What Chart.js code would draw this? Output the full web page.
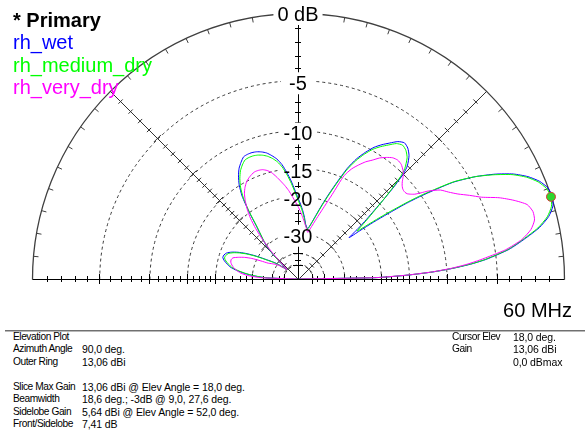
<!DOCTYPE html>
<html>
<head>
<meta charset="utf-8">
<title>Elevation Plot</title>
<script src="https://cdn.jsdelivr.net/npm/chart.js@4.4.1/dist/chart.umd.min.js"></script>
<style>
  body { margin: 0; background: #fff; }
  #wrap { position: relative; width: 585px; height: 435px; overflow: hidden;
          font-family: "Liberation Sans", Arial, sans-serif; color: #000; }
  #plot { position: absolute; left: 0; top: 0; }
  #legend { position: absolute; left: 13px; top: 8.5px; font-size: 20px; line-height: 22.6px; white-space: nowrap; }
  #legend .head { font-weight: bold; color: #000; }
  .ring { position: absolute; font-size: 20px; line-height: 20px; white-space: nowrap; transform: translate(-50%, -50%); }
  #freq { position: absolute; right: 13px; top: 299.5px; font-size: 20px; line-height: 20px; }
  #sep { position: absolute; left: 5px; right: 0; top: 330px; border-top: 1px solid #707070; border-bottom: 1px solid #b8b8b8; }
  .info { position: absolute; top: 330.5px; font-size: 10.5px; line-height: 12.5px; white-space: nowrap; }
  .info.lab { font-size: 10.2px; letter-spacing: -0.45px; }
  .info.val { letter-spacing: -0.1px; }
</style>
</head>
<body>
<div id="wrap">
  <canvas id="plot" width="585" height="330"></canvas>
  <div id="legend"></div>
  <div id="freq">60 MHz</div>
  <div id="sep"></div>
  <div class="info lab" style="left:13px">
    <div>Elevation Plot</div><div>Azimuth Angle</div><div>Outer Ring</div><div>&nbsp;</div>
    <div>Slice Max Gain</div><div>Beamwidth</div><div>Sidelobe Gain</div><div>Front/Sidelobe</div>
  </div>
  <div class="info val" style="left:82px">
    <div>&nbsp;</div><div>90,0 deg.</div><div>13,06 dBi</div><div>&nbsp;</div>
    <div>13,06 dBi @ Elev Angle = 18,0 deg.</div><div>18,6 deg.; -3dB @ 9,0, 27,6 deg.</div>
    <div>5,64 dBi @ Elev Angle = 52,0 deg.</div><div>7,41 dB</div>
  </div>
  <div class="info lab" style="left:452px">
    <div>Cursor Elev</div><div>Gain</div><div>&nbsp;</div>
  </div>
  <div class="info val" style="left:513px">
    <div>18,0 deg.</div><div>13,06 dBi</div><div>0,0 dBmax</div>
  </div>
</div>
<script>
// elevation angles in degrees (0 = right horizon, 180 = left horizon)
var elevAngles = [0,1,2,3,4,5,6,
  8,10,12,14,16,18,20,22,24,26,28,30,32,34,
  35,36,37,38,39,40,41,42,43,44,45,
  46,48,50,52,54,56,58,60,62,64,66,68,70,72,74,76,78,
  79,
  80,82,84,86,88,90,92,94,96,98,100,102,104,106,108,110,112,114,116,118,
  120,122,124,126,128,130,132,134,136,138,140,142,144,146,148,150,152,154,156,158,
  160,162,164,166,168,170,172,174,176,178,180];

// gain in dB relative to the outer ring (13,06 dBi)
var rhWet = [-99,-21,-15.3,-11.6,-9.1,-7.2,-5.8,
  -3.8,-2.5,-1.3,-0.5,-0.05,0.1,0,-0.35,-0.95,-1.8,-3.0,-4.5,-6.5,-10.0,
  -12.2,-15.0,-17.8,-21,-24,-21,-18.5,-16.3,-13.8,-11.6,-9.9,
  -9.0,-8.1,-7.6,-7.4,-7.7,-8.3,-8.9,-9.6,-10.6,-11.8,-13.5,-16,-18.5,-21,-23.5,-25.8,-27.6,
  -28.2,
  -28,-27,-25,-23.3,-21.8,-20.4,-18.8,-17.1,-15.6,-14.3,-13.4,-12.8,-12.3,-12.0,-11.8,-11.7,-11.7,-11.8,-12.3,-12.9,
  -13.8,-15.0,-16.8,-19.8,-23.4,-26,-28.2,-31,-36,-45,-50,-45,-40,-37,-34.5,-31.5,-28.5,-26,-24,-22.5,
  -21.5,-21.1,-21,-21.5,-22.3,-23.2,-25,-27.5,-31,-37,-99];

var rhMediumDry = [-99,-21.1,-15.4,-11.7,-9.2,-7.3,-5.9,
  -3.9,-2.6,-1.4,-0.6,-0.15,0,-0.1,-0.45,-1.05,-1.9,-3.1,-4.5,-6.4,-9.6,
  -11.6,-14.0,-16.5,-19.3,-21.5,-19.8,-17.8,-15.9,-13.9,-12.0,-10.4,
  -9.4,-8.4,-7.9,-7.7,-7.95,-8.55,-9.15,-9.85,-10.85,-12.1,-13.8,-16.3,-18.8,-21.3,-23.8,-26,-27.8,
  -28.3,
  -28.2,-27.3,-25.4,-23.7,-22.2,-20.8,-19.2,-17.5,-16.0,-14.7,-13.8,-13.2,-12.75,-12.45,-12.25,-12.15,-12.15,-12.25,-12.7,-13.3,
  -14.2,-15.4,-17.2,-20.1,-23.6,-26.2,-28.5,-31.5,-36.5,-45.5,-50,-45.5,-40.5,-37.5,-35,-32,-29,-26.4,-24.4,-22.9,
  -21.9,-21.5,-21.4,-21.9,-22.7,-23.6,-25.4,-27.9,-31.4,-37.4,-99];

var rhVeryDry = [-99,-21.2,-15.5,-11.8,-9.4,-7.7,-6.4,
  -4.1,-2.7,-1.9,-1.5,-1.45,-1.7,-2.5,-3.5,-4.8,-5.7,-6.6,-7.3,-7.9,-9.0,
  -9.8,-10.5,-10.9,-11.2,-11.3,-11.3,-11.2,-11.0,-10.7,-10.3,-9.95,
  -9.7,-9.35,-9.25,-9.4,-9.8,-10.3,-11.0,-11.6,-12.4,-13.3,-14.7,-18.4,-21.2,-23.6,-25.8,-27.8,-29.5,
  -29.2,
  -28.6,-27.4,-26.1,-24.8,-23.5,-22.3,-21.2,-20.0,-18.8,-17.8,-16.9,-16.0,-15.2,-14.7,-14.4,-14.3,-14.3,-14.5,-14.8,-15.2,
  -15.8,-16.6,-17.8,-19.3,-21.2,-24,-28,-33,-40,-48,-50,-46,-42.5,-40,-38.5,-37,-35.5,-32,-28.5,-26.2,
  -24.6,-23.3,-23,-23.1,-23.5,-24.1,-25,-26.2,-28.5,-34,-99];

var cursorElev = 18;
var cursorDb = 0;

// rings and their labels (dB)
var ringDb = [0,-5,-10,-15,-20,-30,-40,-50];
var ringLabelDb = [0,-5,-10,-15,-20,-30];
var ringLabels = ['0 dB','-5','-10','-15','-20','-30'];
var minorTickDb = [-1,-2,-3,-4,-6,-7,-8,-9,-11,-12,-13,-14,-16,-17,-18,-19,-22,-24,-26,-28,-35,-45];

// ARRL log scale: radius shrinks to 0.89 every 2 dB
function arrl(db) { return Math.pow(0.89, -db / 2); }
function toXY(ang, db) {
  var r = arrl(db), a = ang * Math.PI / 180;
  return { x: r * Math.cos(a), y: r * Math.sin(a) };
}
function trace(vals) { return elevAngles.map(function (a, i) { return toXY(a, vals[i]); }); }

var wrap = document.getElementById('wrap');
var ringDivs = ringLabels.map(function (t) {
  var d = document.createElement('div');
  d.className = 'ring';
  d.textContent = t;
  wrap.appendChild(d);
  return d;
});

function geometry(chart) {
  var sx = chart.scales.x, sy = chart.scales.y;
  var cx = sx.getPixelForValue(0), cy = sy.getPixelForValue(0);
  return { cx: cx, cy: cy, R: sx.getPixelForValue(1) - cx };
}

function tickAt(ctx, g, angDeg, db, half) {
  var a = angDeg * Math.PI / 180, r = g.R * arrl(db);
  var px = g.cx + r * Math.cos(a), py = g.cy - r * Math.sin(a);
  if (angDeg === 90) py = Math.round(py) + 0.5;
  if (angDeg === 0 || angDeg === 180) px = Math.round(px) + 0.5;
  var nx = Math.sin(a), ny = Math.cos(a);
  ctx.moveTo(px - nx * half, py - ny * half);
  ctx.lineTo(px + nx * half, py + ny * half);
}

var polarGrid = {
  id: 'polarGrid',
  beforeDatasetsDraw: function (chart) {
    var ctx = chart.ctx, g = geometry(chart);
    ctx.save();
    ctx.font = '20px "Liberation Sans", Arial';
    var boxes = ringLabelDb.map(function (db, i) {
      var r = g.R * arrl(db);
      var yc = g.cy - r + (db === 0 ? 1 : 3);
      ringDivs[i].style.left = g.cx + 'px';
      ringDivs[i].style.top = yc + 'px';
      var w = Math.max(ctx.measureText(ringLabels[i]).width + 8, 34);
      return { x: g.cx - w / 2, y: yc - 11, w: w, h: 22 };
    });
    ctx.beginPath();
    ctx.rect(0, 0, chart.width, chart.height);
    boxes.forEach(function (b) { ctx.rect(b.x, b.y, b.w, b.h); });
    ctx.clip('evenodd');

    var cx = Math.round(g.cx) + 0.5, cy = Math.round(g.cy) + 0.5, R = g.R;

    // dashed rings
    ctx.lineWidth = 1;
    ctx.strokeStyle = '#3a3a3a';
    ctx.setLineDash([3, 3]);
    ringDb.forEach(function (db) {
      if (db === 0) return;
      ctx.beginPath();
      ctx.arc(cx, cy, R * arrl(db), Math.PI, 2 * Math.PI);
      ctx.stroke();
    });
    ctx.setLineDash([]);

    // outer ring with 5 degree ticks
    ctx.strokeStyle = '#404040';
    ctx.lineWidth = 1.3;
    ctx.beginPath();
    ctx.arc(cx, cy, R, Math.PI, 2 * Math.PI);
    ctx.stroke();
    ctx.lineWidth = 1;
    ctx.beginPath();
    for (var a = 5; a < 180; a += 5) {
      var t = a * Math.PI / 180;
      ctx.moveTo(cx + R * Math.cos(t), cy - R * Math.sin(t));
      ctx.lineTo(cx + (R - 5) * Math.cos(t), cy - (R - 5) * Math.sin(t));
    }
    ctx.stroke();

    // diagonals
    ctx.strokeStyle = '#333';
    ctx.beginPath();
    [45, 135].forEach(function (ang) {
      var t = ang * Math.PI / 180;
      ctx.moveTo(cx, cy);
      ctx.lineTo(cx + R * Math.cos(t), cy - R * Math.sin(t));
    });
    ctx.stroke();

    // horizon and vertical axis
    ctx.strokeStyle = '#000';
    ctx.beginPath();
    ctx.moveTo(cx - R, cy); ctx.lineTo(cx + R, cy);
    ctx.moveTo(cx, cy); ctx.lineTo(cx, cy - R);
    ctx.stroke();

    // ticks along the axes
    [0, 45, 90, 135, 180].forEach(function (ang) {
      ctx.strokeStyle = (ang === 45 || ang === 135) ? '#333' : '#000';
      ctx.beginPath();
      minorTickDb.forEach(function (db) { tickAt(ctx, g, ang, db, 3); });
      ringDb.forEach(function (db) { if (db < 0) tickAt(ctx, g, ang, db, 5); });
      ctx.stroke();
    });
    ctx.restore();
  }
};

var common = { showLine: true, pointRadius: 0, borderWidth: 1, fill: false, tension: 0.2 };
var chart = new Chart(document.getElementById('plot').getContext('2d'), {
  type: 'scatter',
  data: {
    datasets: [
      Object.assign({ label: 'rh_wet', data: trace(rhWet), borderColor: '#0000ff', order: 3 }, common),
      Object.assign({ label: 'rh_medium_dry', data: trace(rhMediumDry), borderColor: '#00ff00', order: 2 }, common),
      Object.assign({ label: 'rh_very_dry', data: trace(rhVeryDry), borderColor: '#ff00ff', order: 1 }, common),
      { label: 'cursor', data: [toXY(cursorElev, cursorDb)], showLine: false, pointRadius: 4.5,
        backgroundColor: '#2fd62f', borderColor: '#d83a3a', borderWidth: 1, order: 0 }
    ]
  },
  options: {
    responsive: false,
    animation: false,
    layout: { padding: { left: 32, right: 21, top: 13, bottom: 51 } },
    scales: {
      x: { type: 'linear', min: -1, max: 1, display: false },
      y: { type: 'linear', min: 0, max: 1, display: false }
    },
    plugins: { legend: { display: false }, tooltip: { enabled: false } }
  },
  plugins: [polarGrid]
});

// legend text from the datasets
var legend = document.getElementById('legend');
var head = document.createElement('div');
head.className = 'head';
head.textContent = '* Primary';
legend.appendChild(head);
chart.data.datasets.forEach(function (ds) {
  if (ds.label === 'cursor') return;
  var d = document.createElement('div');
  d.textContent = ds.label;
  d.style.color = ds.borderColor;
  legend.appendChild(d);
});
</script>
</body>
</html>
